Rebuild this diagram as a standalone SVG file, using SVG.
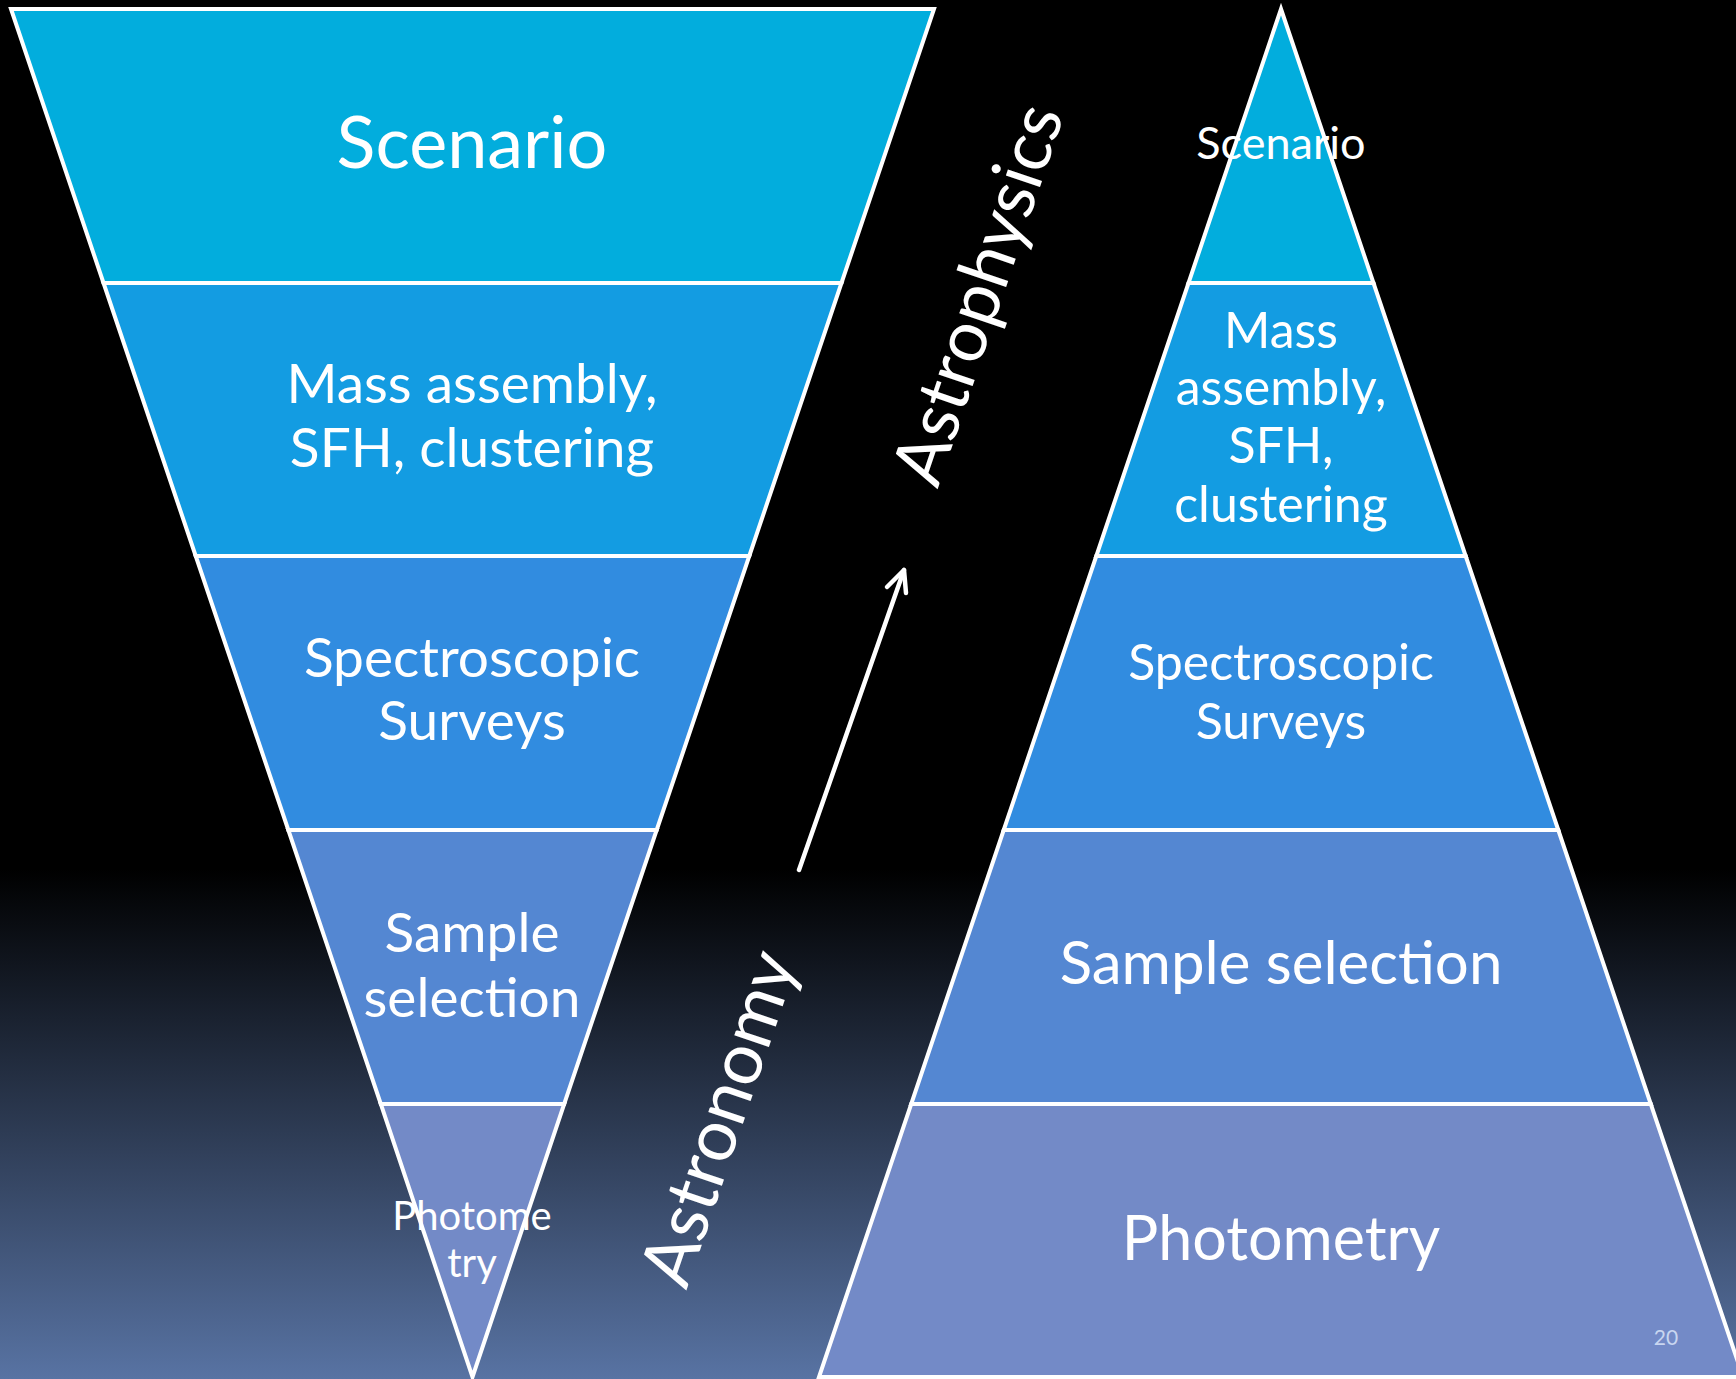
<svg xmlns="http://www.w3.org/2000/svg" width="1736" height="1379" viewBox="0 0 1736 1379">
  <defs>
    <linearGradient id="bg" x1="0" y1="0" x2="0" y2="1">
      <stop offset="0" stop-color="#000000"/>
      <stop offset="0.63" stop-color="#000000"/>
      <stop offset="1" stop-color="#5873a3"/>
    </linearGradient>
    <style>
      .band { stroke: #ffffff; stroke-width: 4; stroke-linejoin: miter; }
      .b1 { fill: #02addd; }
      .b2 { fill: #139ce2; }
      .b3 { fill: #318ce0; }
      .b4 { fill: #5487d2; }
      .b5 { fill: #738ac7; }
      text { font-family: Lato, "Open Sans", sans-serif; fill: #ffffff; text-anchor: middle; }
      .arrow { stroke: #ffffff; stroke-width: 4.5; fill: none; stroke-linecap: round; stroke-linejoin: round; }
    </style>
  </defs>
  <rect x="0" y="0" width="1736" height="1379" fill="url(#bg)"/>

  <!-- Left inverted triangle -->
  <g id="left-scenario">
    <polygon class="band b1" points="11,9 934,9 841.5,283 103.5,283"/>
    <text x="472" y="168" font-size="72">Scenario</text>
  </g>
  <g id="left-mass">
    <polygon class="band b2" points="103.5,283 841.5,283 749.3,556 195.7,556"/>
    <text x="472" y="403" font-size="55">Mass assembly,</text>
    <text x="472" y="467" font-size="55">SFH, clustering</text>
  </g>
  <g id="left-spectro">
    <polygon class="band b3" points="195.7,556 749.3,556 656.7,830 288.3,830"/>
    <text x="472" y="677" font-size="55">Spectroscopic</text>
    <text x="472" y="740" font-size="55">Surveys</text>
  </g>
  <g id="left-sample">
    <polygon class="band b4" points="288.3,830 656.7,830 564.2,1104 380.8,1104"/>
    <text x="472" y="952" font-size="55">Sample</text>
    <text x="472" y="1017" font-size="55">selection</text>
  </g>
  <g id="left-photometry">
    <polygon class="band b5" points="380.8,1104 564.2,1104 472.5,1377"/>
    <text x="472" y="1230" font-size="40">Photome</text>
    <text x="472" y="1277" font-size="40">try</text>
  </g>

  <!-- Right pyramid -->
  <g id="right-scenario">
    <polygon class="band b1" points="1281,9 1373.5,283 1188.5,283"/>
    <text x="1281" y="159" font-size="45">Scenario</text>
  </g>
  <g id="right-mass">
    <polygon class="band b2" points="1188.5,283 1373.5,283 1465.7,556 1096.3,556"/>
    <text x="1281" y="348" font-size="50">Mass</text>
    <text x="1281" y="405" font-size="50">assembly,</text>
    <text x="1281" y="463" font-size="50">SFH,</text>
    <text x="1281" y="522" font-size="50">clustering</text>
  </g>
  <g id="right-spectro">
    <polygon class="band b3" points="1096.3,556 1465.7,556 1558.3,830 1003.7,830"/>
    <text x="1281" y="680" font-size="50">Spectroscopic</text>
    <text x="1281" y="739" font-size="50">Surveys</text>
  </g>
  <g id="right-sample">
    <polygon class="band b4" points="1003.7,830 1558.3,830 1650.8,1104 911.2,1104"/>
    <text x="1281" y="984" font-size="60">Sample selection</text>
  </g>
  <g id="right-photometry">
    <polygon class="band b5" points="911.2,1104 1650.8,1104 1743,1377 819,1377"/>
    <text x="1281" y="1260" font-size="61">Photometry</text>
  </g>

  <!-- Labels -->
  <g id="label-astrophysics">
    <text x="1001" y="302" font-size="71" transform="rotate(-71.3 1001 302)">Astrophysics</text>
  </g>
  <g id="label-astronomy">
    <text x="742" y="1126" font-size="72" transform="rotate(-71.3 742 1126)">Astronomy</text>
  </g>

  <g id="connectors">
    <line class="arrow" x1="799" y1="870" x2="904" y2="570"/>
    <polyline class="arrow" points="887,587 904,570 906,593"/>
  </g>

  <g id="page-number">
    <text x="1666" y="1345" font-size="21" style="fill:#c8d6f0">20</text>
  </g>
</svg>
